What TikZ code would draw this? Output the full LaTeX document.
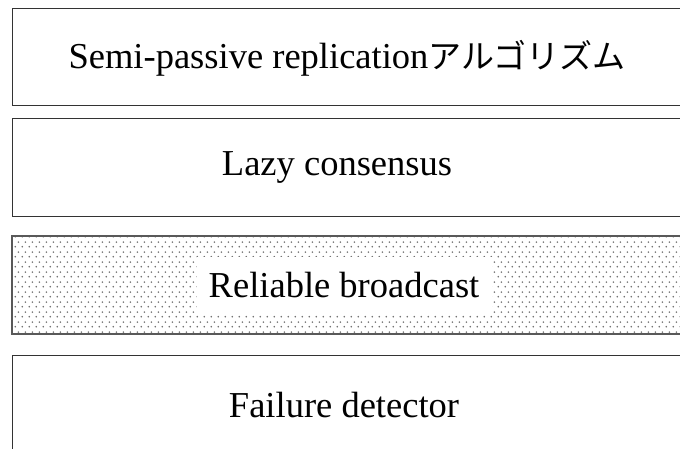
\documentclass[tikz,border=0pt]{standalone}
\usepackage{fontspec}
\setmainfont{Liberation Serif}
\newfontfamily\cjk{Noto Sans CJK JP}
\usetikzlibrary{patterns}
\pgfdeclarepatternformonly{stagdots}{\pgfqpoint{0pt}{0pt}}{\pgfqpoint{7pt}{10pt}}{\pgfqpoint{7pt}{10pt}}{%
  \pgfpathcircle{\pgfqpoint{1.5pt}{2.5pt}}{1pt}%
  \pgfpathcircle{\pgfqpoint{5pt}{7.5pt}}{1pt}%
  \pgfusepath{fill}}
\begin{document}
\begin{tikzpicture}[x=1pt,y=-1pt,
  layerbox/.style={draw=black!80, line width=1pt, fill=white},
  hatchbox/.style={draw=black!65, line width=2pt, pattern=stagdots, pattern color=black!55},
  lbl/.style={font=\fontsize{36.5}{40}\selectfont, inner sep=0pt}]
\useasboundingbox (0,0) rectangle (680,448);
\clip (0,0) rectangle (680,448);
\draw[layerbox] (12,8) rectangle (700,105);
\draw[layerbox] (12,118) rectangle (700,216);
\draw[hatchbox] (12,236) rectangle (700,334);
\draw[layerbox] (12,355) rectangle (700,453);
\node[lbl] (l1) at (347,58) {Semi-passive replication{\cjk\fontsize{33}{36}\selectfont アルゴリズム}};
\node[lbl] (l2) at (337,167) {Lazy consensus};
\node[lbl, fill=white, minimum width=295, minimum height=57] (l3) at (344,285) {Reliable broadcast};
\node[lbl] (l4) at (344,405) {Failure detector};
\end{tikzpicture}
\end{document}
